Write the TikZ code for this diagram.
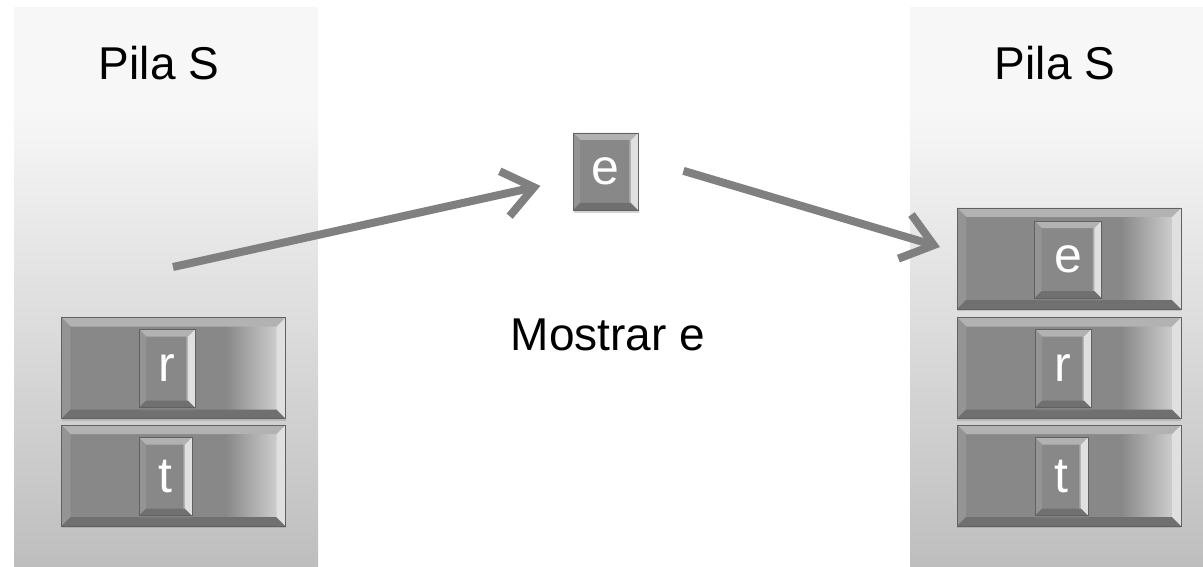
\documentclass[tikz,border=0pt]{standalone}
\usepackage{fontspec}
\setmainfont{Liberation Sans}
\usetikzlibrary{arrows.meta, shadows}
\usepackage{xcolor}
\definecolor{panelclaro}{RGB}{247,247,247}
\definecolor{paneloscuro}{RGB}{190,190,190}
\definecolor{gris}{RGB}{128,128,128}
\definecolor{cuerpo}{RGB}{136,136,136}
\newcommand\titulo{\fontsize{46}{55}\selectfont}
\newcommand\letra{\fontsize{50}{56}\selectfont}

\tikzset{
  biselado/.style 2 args={draw=black!62, fill=cuerpo, inner sep=0pt, line width=0.8pt,
    path picture={
      \coordinate (pa) at (path picture bounding box.north west);
      \coordinate (pb) at (path picture bounding box.north east);
      \coordinate (pc) at (path picture bounding box.south east);
      \coordinate (pd) at (path picture bounding box.south west);
      % brillo a la derecha
      \shade[left color=cuerpo, right color=black!20] ([shift={(-#2,-#1)}]pb) rectangle ([shift={(-#1,#1)}]pc);
      % bordes
      \fill[black!30] (pa) -- (pb) -- ([shift={(-#1,-#1)}]pb) -- ([shift={(#1,-#1)}]pa) -- cycle;
      \fill[black!42] (pa) -- (pd) -- ([shift={(#1,#1)}]pd) -- ([shift={(#1,-#1)}]pa) -- cycle;
      \fill[black!56] (pd) -- (pc) -- ([shift={(-#1,#1)}]pc) -- ([shift={(#1,#1)}]pd) -- cycle;
      \fill[black!12] (pb) -- (pc) -- ([shift={(-#1,#1)}]pc) -- ([shift={(-#1,-#1)}]pb) -- cycle;
    }},
  losa/.style={biselado={9pt}{60pt}, minimum width=224pt, minimum height=101pt,
    drop shadow={shadow xshift=0pt, shadow yshift=-2pt, opacity=.3}},
  tecla/.style={biselado={7pt}{10pt}, minimum height=78pt, text=white, font=\letra,
    drop shadow={shadow xshift=1pt, shadow yshift=-3pt, opacity=.35}},
  rotulo/.style={font=\titulo, text=black},
  flecha/.style={draw=gris, line width=8pt, -{Straight Barb[length=30pt, width=46pt]},
    preaction={draw=black!15, -{Straight Barb[length=30pt, width=46pt]},
      transform canvas={shift={(2pt,-3pt)}}}},
}

\begin{document}
\begin{tikzpicture}[x=1pt, y=-1pt]
  \useasboundingbox (0,0) rectangle (1203,567);
  % fondos de las pilas
  \foreach \xa/\xb in {14/318, 910/1203} {
    \fill[panelclaro] (\xa,7) rectangle (\xb,111);
    \shade[top color=panelclaro, bottom color=paneloscuro] (\xa,110) rectangle (\xb,567);
  }
  \node[rotulo] (tituloIzq) at (159,63) {Pila S};
  \node[rotulo] (tituloDer) at (1055,63) {Pila S};
  \node[rotulo] (mostrar) at (608,335) {Mostrar e};

  % pila de la izquierda
  \node[losa] (losaR1) at (173.5,368) {};
  \node[tecla, minimum width=56pt] (teclaR1) at (167,368.5) {r};
  \node[losa] (losaT1) at (173.5,475.5) {};
  \node[tecla, minimum width=53pt] (teclaT1) at (165.5,476.5) {t};

  % elemento suelto
  \node[tecla, minimum width=65pt, minimum height=77pt] (cajaE) at (605.5,171.5) {e};

  % pila de la derecha
  \node[losa] (losaE2) at (1069,258.5) {};
  \node[tecla, minimum width=67pt, minimum height=77pt] (teclaE2) at (1068,259.5) {e};
  \node[losa] (losaR2) at (1069,368) {};
  \node[tecla, minimum width=56pt] (teclaR2) at (1063,368.5) {r};
  \node[losa] (losaT2) at (1069,475.5) {};
  \node[tecla, minimum width=53pt] (teclaT2) at (1061.5,476.5) {t};

  % flechas
  \coordinate (inicio) at (173,267);
  \coordinate (destino) at (940,247);
  \draw[flecha, shorten >=33pt] (inicio) -- (cajaE);
  \draw[flecha, shorten <=47pt] ([yshift=14pt]cajaE.east) -- (destino);
\end{tikzpicture}
\end{document}
